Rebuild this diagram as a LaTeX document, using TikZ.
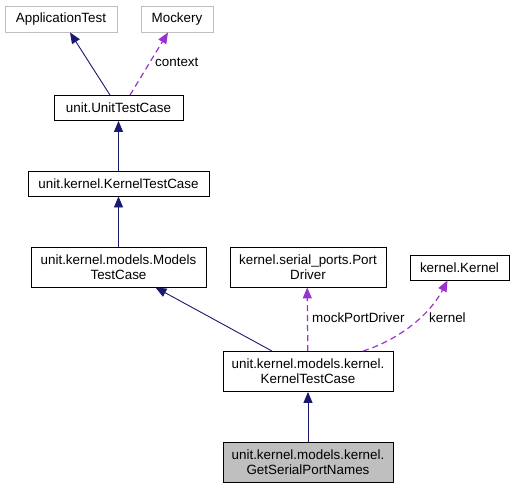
\documentclass[tikz,border=0pt]{standalone}
\usepackage{fontspec}
\setmainfont{Liberation Sans}
\usetikzlibrary{arrows.meta}
\definecolor{inhblue}{RGB}{25,25,112}
\definecolor{usepurple}{RGB}{154,50,205}
\definecolor{extgray}{RGB}{191,191,191}
\begin{document}
\begin{tikzpicture}[x=1pt,y=-1pt,
    font=\fontsize{13.4}{15}\selectfont,
    cls/.style={draw=black, line width=0.9pt, fill=white, align=center, inner sep=0pt, minimum height=25pt},
    ext/.style={cls, draw=extgray},
    inherit/.style={draw=inhblue, line width=0.9pt, -{Triangle[length=11pt,width=9pt]}},
    uses/.style={draw=usepurple, line width=1.2pt, dash pattern=on 6pt off 4pt, -{Triangle[length=11pt,width=9pt]}},
    lbl/.style={anchor=west, inner sep=0pt}]
    \useasboundingbox (0,0) rectangle (515,488);
    \node[ext, minimum width=112pt, minimum height=26pt] (app) at (61,19) {ApplicationTest};
    \node[ext, minimum width=72pt, minimum height=26pt] (mock) at (177,19) {Mockery};
    \node[cls, minimum width=129pt] (utc) at (118.5,108) {unit.UnitTestCase};
    \node[cls, minimum width=181pt] (ktc) at (118.5,183.5) {unit.kernel.KernelTestCase};
    \node[cls, minimum width=175pt, minimum height=40pt] (mtc) at (118.5,267) {unit.kernel.models.Models\\TestCase};
    \node[cls, minimum width=156pt, minimum height=40pt] (pd) at (308,267) {kernel.serial\_ports.Port\\Driver};
    \node[cls, minimum width=99pt] (kern) at (459.5,267.5) {kernel.Kernel};
    \node[cls, minimum width=170pt, minimum height=40pt] (kktc) at (308,371.5) {unit.kernel.models.kernel.\\KernelTestCase};
    \node[cls, fill=extgray, minimum width=170pt, minimum height=40pt] (gspn) at (308,462) {unit.kernel.models.kernel.\\GetSerialPortNames};

    \draw[inherit] ([xshift=-8.5pt]utc.north) -- ([xshift=9pt]app.south);
    \draw[uses] ([xshift=11.5pt]utc.north) -- ([xshift=-9pt]mock.south);
    \node[lbl] (ctx) at (155,62) {context};
    \draw[inherit] (ktc) -- (utc);
    \draw[inherit] (mtc) -- (ktc);
    \draw[inherit] ([xshift=-36pt]kktc.north) -- ([xshift=37pt]mtc.south);
    \draw[uses] ([xshift=-0.2pt]kktc.north) -- ([xshift=-0.8pt]pd.south);
    \node[lbl] (mpd) at (312,318) {mockPortDriver};
    \draw[uses] ([xshift=55pt]kktc.north) .. controls (395,341) and (428,318) .. ([xshift=-12pt]kern.south);
    \node[lbl] (krn) at (429,318) {kernel};
    \draw[inherit] (gspn) -- (kktc);
\end{tikzpicture}
\end{document}
